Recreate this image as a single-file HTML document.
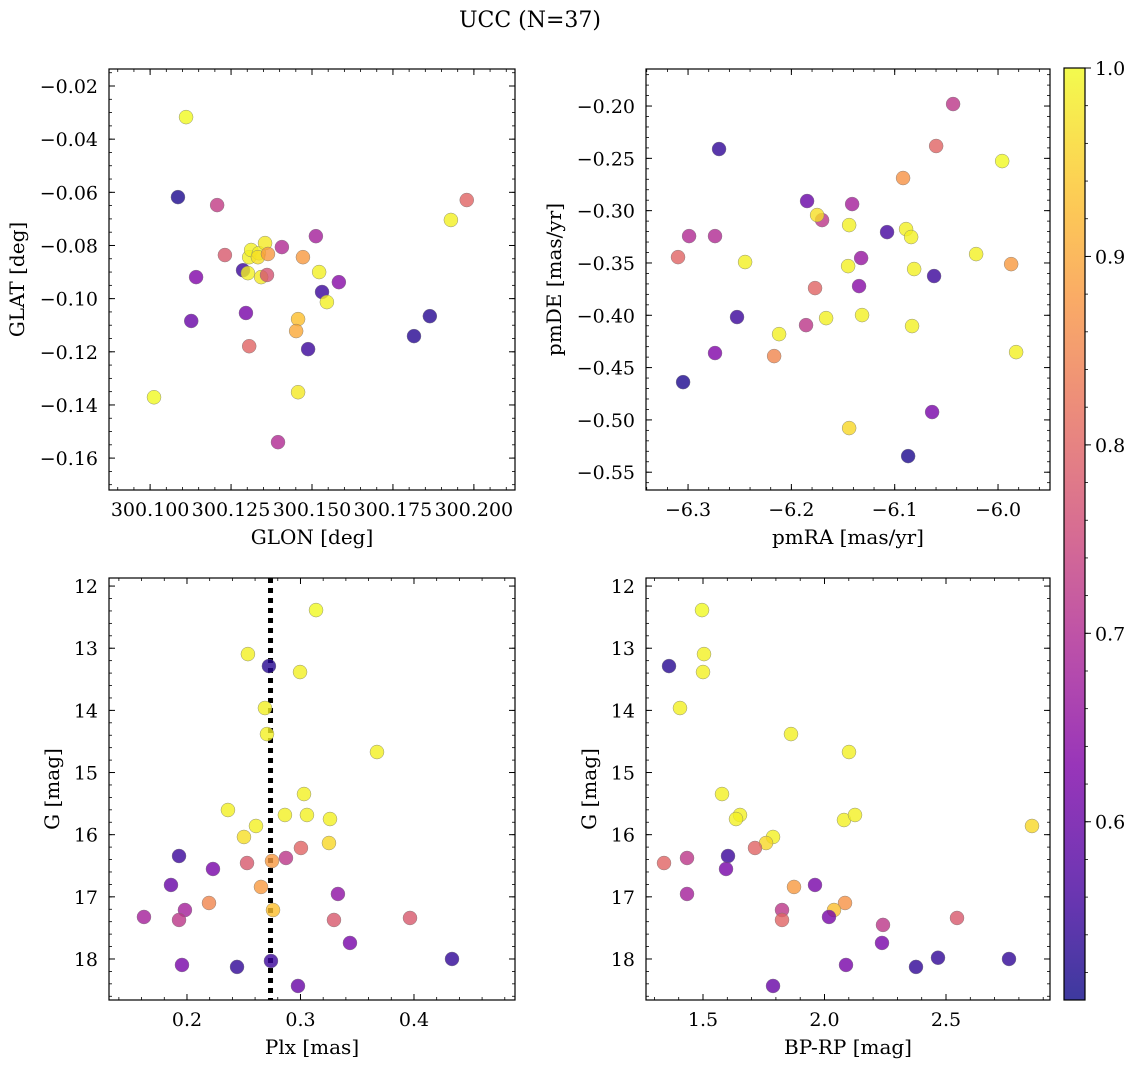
<!DOCTYPE html>
<html><head><meta charset="utf-8">
<style>
html,body{margin:0;padding:0;background:#fff;}
svg{display:block;font-family:"DejaVu Serif","Liberation Serif",serif;}
</style></head>
<body>
<svg id="chart" width="1136" height="1068" viewBox="0 0 1136 1068" xmlns="http://www.w3.org/2000/svg">
<text x="530" y="27" font-size="22" text-anchor="middle">UCC (N=37)</text>
</svg>
<script>
// ---- data ----
const glon = [300.1111,300.1086,300.1207,300.1231,300.1142,300.1127,300.1012,300.1287,300.1306,300.1312,300.1302,300.1336,300.1355,300.1333,300.1343,300.1364,300.1361,300.1296,300.1306,300.1407,300.1395,300.1472,300.1512,300.1522,300.1531,300.1546,300.1583,300.1457,300.1451,300.1457,300.1488,300.1929,300.1978,300.1864,300.1815];
const glat = [-0.0317,-0.0618,-0.0648,-0.0836,-0.0919,-0.1084,-0.1371,-0.0893,-0.0844,-0.0817,-0.0904,-0.0829,-0.0791,-0.0844,-0.0919,-0.0832,-0.0911,-0.1054,-0.1179,-0.0806,-0.1540,-0.0844,-0.0765,-0.0900,-0.0975,-0.1013,-0.0938,-0.1077,-0.1122,-0.1352,-0.1190,-0.0704,-0.0629,-0.1066,-0.1141];
const probA = [1.0,0.52,0.73,0.78,0.63,0.6,1.0,0.55,0.99,0.99,0.99,0.99,0.98,0.97,0.98,0.88,0.77,0.62,0.8,0.7,0.7,0.88,0.68,0.99,0.55,0.99,0.64,0.93,0.9,0.98,0.55,0.99,0.8,0.53,0.53];

const pmra = [-6.0435,-6.0599,-5.9960,-6.2700,-6.1848,-6.1412,-6.1703,-6.1751,-6.0919,-6.1074,-6.0890,-6.0841,-6.1441,-6.2990,-6.2448,-6.1325,-6.0812,-6.1451,-6.0619,-6.0212,-5.9873,-6.3097,-6.2739,-6.1345,-6.2526,-6.1771,-6.1858,-6.1664,-6.1316,-6.2119,-6.0832,-6.2167,-6.2739,-6.3048,-5.9825,-6.0638,-6.1441,-6.0870];
const pmde = [-0.1981,-0.2382,-0.2526,-0.2411,-0.2908,-0.2937,-0.3090,-0.3042,-0.2688,-0.3205,-0.3176,-0.3252,-0.3138,-0.3243,-0.3491,-0.3453,-0.3558,-0.3530,-0.3625,-0.3415,-0.3511,-0.3444,-0.3243,-0.3721,-0.4017,-0.3740,-0.4094,-0.4027,-0.3998,-0.4180,-0.4103,-0.4390,-0.4361,-0.4639,-0.4352,-0.4925,-0.5078,-0.5346];
const probB = [0.72,0.8,1.0,0.54,0.6,0.68,0.72,0.97,0.87,0.56,0.99,0.99,0.99,0.7,0.99,0.66,0.99,0.99,0.55,0.99,0.88,0.8,0.7,0.64,0.55,0.8,0.72,0.99,0.99,0.99,0.99,0.85,0.63,0.52,0.99,0.62,0.96,0.52];

const plx = [0.3137,0.2537,0.2722,0.2996,0.2687,0.2705,0.3674,0.3031,0.2361,0.2863,0.3057,0.3260,0.2608,0.2502,0.3251,0.3004,0.1930,0.2749,0.2872,0.2529,0.2229,0.1859,0.2652,0.3330,0.2194,0.1982,0.2758,0.1621,0.1930,0.3295,0.3965,0.3436,0.1956,0.2441,0.2740,0.2978,0.4335];
const gmagC = [12.386,13.094,13.287,13.383,13.962,14.381,14.670,15.346,15.603,15.683,15.683,15.748,15.860,16.037,16.134,16.214,16.343,16.423,16.375,16.456,16.552,16.809,16.841,16.954,17.099,17.212,17.212,17.324,17.372,17.372,17.340,17.742,18.096,18.128,18.032,18.434,18.000];
const probC = [1.0,0.99,0.53,0.99,0.99,0.99,0.99,0.99,0.99,0.99,0.99,0.99,0.99,0.97,0.96,0.8,0.55,0.88,0.72,0.78,0.62,0.6,0.88,0.65,0.85,0.68,0.93,0.68,0.72,0.78,0.78,0.62,0.62,0.54,0.55,0.6,0.54];
const plxLine = 0.2736;

const bprp = [1.4959,1.5041,1.3601,1.5000,1.4053,1.8621,2.1008,1.5782,2.0802,2.1255,1.6522,1.6358,1.7881,1.7593,2.8539,1.3395,1.4342,1.6029,1.7140,1.5947,1.8745,1.9609,1.4342,2.0844,2.0391,1.8251,1.8251,2.0185,2.2407,2.5453,2.2366,2.0885,2.3765,2.4671,2.7593,1.7882];
const gmagD = [12.386,13.094,13.287,13.383,13.962,14.381,14.670,15.346,15.764,15.683,15.683,15.748,16.037,16.134,15.860,16.456,16.375,16.343,16.214,16.552,16.841,16.809,16.954,17.099,17.212,17.212,17.372,17.324,17.452,17.340,17.742,18.096,18.128,17.980,18.000,18.434];
const probD = [1.0,0.99,0.53,0.99,0.99,0.99,0.99,0.99,0.99,0.99,0.99,0.99,0.99,0.96,0.96,0.8,0.72,0.55,0.8,0.62,0.88,0.62,0.68,0.87,0.93,0.72,0.8,0.62,0.72,0.78,0.62,0.62,0.54,0.54,0.54,0.6];

const glonTicks = [300.100,300.125,300.150,300.175,300.200];
const glonLabels = ["300.100","300.125","300.150","300.175","300.200"];
const glatTicks = [-0.02,-0.04,-0.06,-0.08,-0.10,-0.12,-0.14,-0.16];
const glatLabels = ["\u22120.02","\u22120.04","\u22120.06","\u22120.08","\u22120.10","\u22120.12","\u22120.14","\u22120.16"];
const pmraTicks = [-6.3,-6.2,-6.1,-6.0];
const pmraLabels = ["\u22126.3","\u22126.2","\u22126.1","\u22126.0"];
const pmdeTicks = [-0.20,-0.25,-0.30,-0.35,-0.40,-0.45,-0.50,-0.55];
const pmdeLabels = ["\u22120.20","\u22120.25","\u22120.30","\u22120.35","\u22120.40","\u22120.45","\u22120.50","\u22120.55"];
const plxTicks = [0.2,0.3,0.4];
const plxLabels = ["0.2","0.3","0.4"];
const gTicks = [12,13,14,15,16,17,18];
const gLabels = ["12","13","14","15","16","17","18"];
const bprpTicks = [1.5,2.0,2.5];
const bprpLabels = ["1.5","2.0","2.5"];
const cbTicks = [0.6,0.7,0.8,0.9,1.0];
const cbLabels = ["0.6","0.7","0.8","0.9","1.0"];

// ---- rendering ----
const NS = "http://www.w3.org/2000/svg";
const svg = document.getElementById('chart');
const CMIN = 0.5054, CMAX = 1.0;
const stops = [[0,[13,8,135]],[0.125,[75,3,161]],[0.25,[126,3,168]],[0.375,[170,35,149]],[0.5,[204,71,120]],[0.625,[230,108,92]],[0.75,[248,149,64]],[0.875,[253,196,39]],[1,[240,249,33]]];
function plasma(t){
  t=Math.max(0,Math.min(1,t));
  for(let i=1;i<stops.length;i++){
    if(t<=stops[i][0]){
      const a=stops[i-1],b=stops[i],f=(t-a[0])/(b[0]-a[0]);
      return 'rgb('+a[1].map((v,k)=>Math.round(v+(b[1][k]-v)*f)).join(',')+')';
    }
  }
  return 'rgb(240,249,33)';
}
function el(tag, attrs, parent){
  const e=document.createElementNS(NS,tag);
  for(const k in attrs) e.setAttribute(k,attrs[k]);
  (parent||svg).appendChild(e);
  return e;
}
function linScale(d0,d1,r0,r1){return v=>r0+(v-d0)/(d1-d0)*(r1-r0);}
const FS=19, TFS=20;

function panel(cfg){
  const {L,T,R,B,xd,yd,xs,ys,cs,xt,xl,yt,yl,xminor,yminor,xlabel,ylabel,name}=cfg;
  const g=el('g',{});
  
  
  const sx=linScale(xd[0],xd[1],L,R), sy=linScale(yd[0],yd[1],T,B);
  if(cfg.extra) cfg.extra(g,sx,sy);
  const pg=el('g',{},g);
  
  
  for(let i=0;i<xs.length;i++){
    const c=el('circle',{cx:sx(xs[i]),cy:sy(ys[i]),r:7,fill:plasma((cs[i]-CMIN)/(CMAX-CMIN)),'fill-opacity':0.8,stroke:'#777','stroke-width':0.4},pg);
    
    
  }
  const f=el('rect',{x:L,y:T,width:R-L,height:B-T,fill:'none',stroke:'#000','stroke-width':1.2},g);
  
  
  const lo=Math.min(xd[0],xd[1]),hi=Math.max(xd[0],xd[1]);
  for(let v=Math.ceil(lo/xminor-1e-6)*xminor; v<=hi; v+=xminor){
    const x=sx(v);
    el('line',{x1:x,x2:x,y1:B,y2:B-3,stroke:'#000','stroke-width':0.8},g);
    el('line',{x1:x,x2:x,y1:T,y2:T+3,stroke:'#000','stroke-width':0.8},g);
  }
  const ylo=Math.min(yd[0],yd[1]),yhi=Math.max(yd[0],yd[1]);
  for(let v=Math.ceil(ylo/yminor-1e-6)*yminor; v<=yhi; v+=yminor){
    const y=sy(v);
    el('line',{x1:L,x2:L+3,y1:y,y2:y,stroke:'#000','stroke-width':0.8},g);
    el('line',{x1:R,x2:R-3,y1:y,y2:y,stroke:'#000','stroke-width':0.8},g);
  }
  xt.forEach((v,i)=>{
    const x=sx(v);
    el('line',{x1:x,x2:x,y1:B,y2:B-6,stroke:'#000','stroke-width':1},g);
    el('line',{x1:x,x2:x,y1:T,y2:T+6,stroke:'#000','stroke-width':1},g);
    const t=el('text',{x:x,y:B+26,'font-size':FS,'text-anchor':'middle'},g);
    t.textContent=xl[i];
    
    
  });
  yt.forEach((v,i)=>{
    const y=sy(v);
    el('line',{x1:L,x2:L+6,y1:y,y2:y,stroke:'#000','stroke-width':1},g);
    el('line',{x1:R,x2:R-6,y1:y,y2:y,stroke:'#000','stroke-width':1},g);
    const t=el('text',{x:L-11,y:y+7,'font-size':FS,'text-anchor':'end'},g);
    t.textContent=yl[i];
    
    
  });
  const xt2=el('text',{x:(L+R)/2,y:B+54,'font-size':TFS,'text-anchor':'middle'},g);
  xt2.textContent=xlabel;
  
  
  const yx=cfg.ylx;
  const yt2=el('text',{x:yx,y:(T+B)/2,'font-size':TFS,'text-anchor':'middle',transform:'rotate(-90 '+yx+' '+(T+B)/2+')'},g);
  yt2.textContent=ylabel;
  
  
}

panel({name:'glon-glat-panel',L:109,T:69,R:515,B:490,xd:[300.0873,300.2127],yd:[-0.0136,-0.1720],xs:glon,ys:glat,cs:probA,
  xt:glonTicks,xl:glonLabels,yt:glatTicks,yl:glatLabels,xminor:0.005,yminor:0.005,xlabel:'GLON [deg]',ylabel:'GLAT [deg]',ylx:24});
panel({name:'pm-panel',L:646,T:69,R:1050,B:490,xd:[-6.3407,-5.9497],yd:[-0.1646,-0.567],xs:pmra,ys:pmde,cs:probB,
  xt:pmraTicks,xl:pmraLabels,yt:pmdeTicks,yl:pmdeLabels,xminor:0.02,yminor:0.01,xlabel:'pmRA [mas/yr]',ylabel:'pmDE [mas/yr]',ylx:561});
panel({name:'plx-g-panel',L:109,T:578,R:515,B:1000,xd:[0.1313,0.489],yd:[11.87,18.66],xs:plx,ys:gmagC,cs:probC,
  xt:plxTicks,xl:plxLabels,yt:gTicks,yl:gLabels,xminor:0.02,yminor:0.2,xlabel:'Plx [mas]',ylabel:'G [mag]',ylx:59,
  extra:(g,sx,sy)=>{
    const l=el('line',{x1:sx(plxLine),x2:sx(plxLine),y1:578,y2:1000,stroke:'#000','stroke-width':5,'stroke-dasharray':'5,5'},g);
    
    
  }});
panel({name:'cmd-panel',L:646,T:578,R:1050,B:1000,xd:[1.2654,2.928],yd:[11.87,18.66],xs:bprp,ys:gmagD,cs:probD,
  xt:bprpTicks,xl:bprpLabels,yt:gTicks,yl:gLabels,xminor:0.1,yminor:0.2,xlabel:'BP-RP [mag]',ylabel:'G [mag]',ylx:596});

(function(){
  const L=1064,R=1085,T=68,B=1000;
  const g=el('g',{});
  
  
  const defs=el('defs',{},g);
  const lg=el('linearGradient',{id:'cbgrad',x1:0,y1:1,x2:0,y2:0},defs);
  for(let i=0;i<=20;i++){el('stop',{offset:i/20,'stop-color':plasma(i/20),'stop-opacity':0.8},lg);}
  el('rect',{x:L,y:T,width:R-L,height:B-T,fill:'url(#cbgrad)',stroke:'#000','stroke-width':1.2},g);
  const sy=linScale(CMIN,CMAX,B,T);
  for(let v=0.52; v<=1.0001; v+=0.02){
    el('line',{x1:R,x2:R+3,y1:sy(v),y2:sy(v),stroke:'#000','stroke-width':0.8},g);
  }
  cbTicks.forEach((v,i)=>{
    const y=sy(v);
    el('line',{x1:R,x2:R+6,y1:y,y2:y,stroke:'#000','stroke-width':1},g);
    const t=el('text',{x:R+10,y:y+7,'font-size':FS},g);
    t.textContent=cbLabels[i];
    
    
  });
})();
</script>
</body></html>
